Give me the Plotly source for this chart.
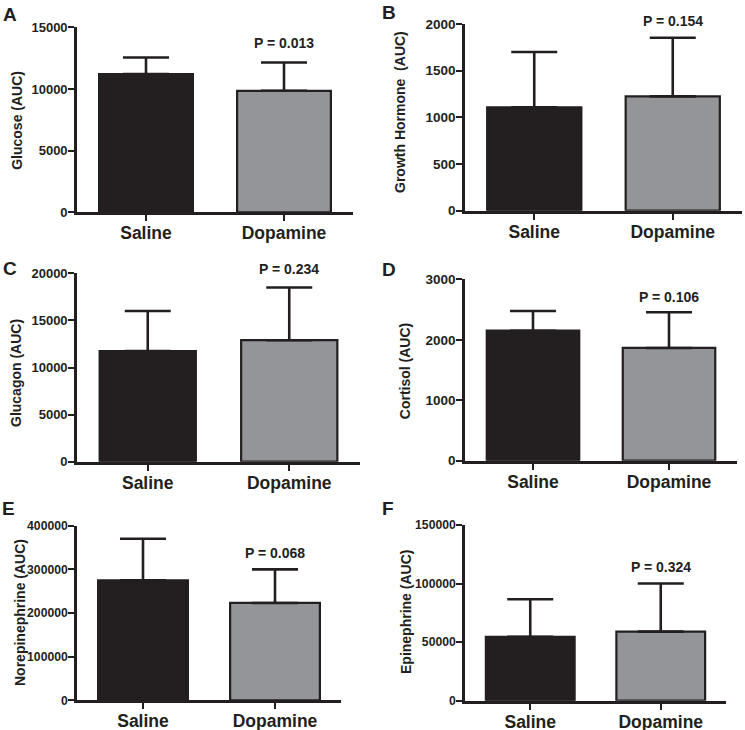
import plotly.graph_objects as go

categories = ["Saline", "Dopamine"]

panel_letters = ["A", "B", "C", "D", "E", "F"]
y_titles = ["Glucose (AUC)", "Growth Hormone\u00a0 (AUC)", "Glucagon (AUC)",
            "Cortisol (AUC)", "Norepinephrine (AUC)", "Epinephrine (AUC)"]
p_labels = ["P = 0.013", "P = 0.154", "P = 0.234", "P = 0.106", "P = 0.068", "P = 0.324"]

glucose_mean = [11200, 9850]
glucose_err = [1350, 2300]
gh_mean = [1108, 1225]
gh_err = [592, 628]
glucagon_mean = [11750, 12900]
glucagon_err = [4250, 5600]
cortisol_mean = [2150, 1865]
cortisol_err = [325, 590]
ne_mean = [275000, 223000]
ne_err = [95000, 77000]
epi_mean = [54600, 59000]
epi_err = [32000, 41000]

means = [glucose_mean, gh_mean, glucagon_mean, cortisol_mean, ne_mean, epi_mean]
errs = [glucose_err, gh_err, glucagon_err, cortisol_err, ne_err, epi_err]

y_max = [15000, 2000, 20000, 3000, 400000, 150000]
y_step = [5000, 500, 5000, 1000, 100000, 50000]

W, H = 745, 730
# pixel layout of each panel: (x_left, x_right, y_top, y_bottom)
boxes = [(77, 353, 27.3, 212.3), (465, 742, 24, 210.7),
         (77, 360, 273.3, 461.7), (465, 737, 279.3, 460.7),
         (77, 341, 525.7, 700.3), (465, 726, 525, 700.7)]
letter_pos = [(10, 14), (389, 12), (9.5, 268), (389, 269.5), (8.5, 508), (387.5, 508.5)]
title_pos = [(17, 120.8), (400, 112), (15.5, 373.5), (404.5, 371.7), (20, 613), (405.5, 612.5)]
p_frac = [0.915, 1.018, 1.022, 0.901, 0.841, 0.759]
ytick_size = [13, 13.5, 13, 13.5, 12.2, 12.2]

FONT = "Liberation Sans, Arial, sans-serif"
DARK = "#231f20"
GREY = "#939598"

def px(x):
    return x / W

def py(y):
    return 1 - y / H

fig = go.Figure()
annotations = []
for i in range(6):
    sfx = "" if i == 0 else str(i + 1)
    fig.add_trace(go.Bar(
        x=categories, y=means[i],
        xaxis="x" + sfx, yaxis="y" + sfx,
        width=0.68,
        marker=dict(color=[DARK, GREY], line=dict(color=DARK, width=2.2)),
        error_y=dict(type="data", symmetric=False, array=errs[i],
                     arrayminus=[0, 0], color=DARK, thickness=2.6, width=23),
        showlegend=False, hoverinfo="y",
    ))
    x0, x1, y0, y1 = boxes[i]
    tickvals = list(range(0, y_max[i] + 1, y_step[i]))
    fig.update_layout(**{
        "xaxis" + sfx: dict(
            domain=[px(x0), px(x1)], anchor="y" + sfx, automargin=False,
            type="category", range=[-0.5, 1.5],
            showline=True, linecolor=DARK, linewidth=2.6,
            ticks="outside", ticklen=6, tickwidth=2.4, tickcolor=DARK,
            ticklabelstandoff=-3,
            tickfont=dict(family=FONT, size=17.5, color=DARK, weight="bold"),
            showgrid=False, zeroline=False, fixedrange=True,
        ),
        "yaxis" + sfx: dict(
            domain=[py(y1), py(y0)], anchor="x" + sfx, automargin=False,
            range=[0, y_max[i]], tickvals=tickvals,
            ticktext=[str(v) for v in tickvals],
            showline=True, linecolor=DARK, linewidth=2.6,
            ticks="outside", ticklen=6, tickwidth=2.4, tickcolor=DARK,
            ticklabelstandoff=-2,
            tickfont=dict(family=FONT, size=ytick_size[i], color=DARK, weight="bold"),
            showgrid=False, zeroline=False, fixedrange=True,
        ),
    })
    lx, ly = letter_pos[i]
    annotations.append(dict(text=panel_letters[i], x=px(lx), y=py(ly), xref="paper", yref="paper",
                            showarrow=False, xanchor="center", yanchor="middle",
                            font=dict(family=FONT, size=19, color=DARK, weight="bold")))
    tx, ty = title_pos[i]
    annotations.append(dict(text=y_titles[i], x=px(tx), y=py(ty), xref="paper", yref="paper",
                            showarrow=False, xanchor="center", yanchor="middle", textangle=-90,
                            font=dict(family=FONT, size=14, color=DARK, weight="bold")))
    annotations.append(dict(text=p_labels[i], x=categories[1], y=p_frac[i],
                            xref="x" + sfx, yref="y" + sfx + " domain",
                            showarrow=False, xanchor="center", yanchor="middle",
                            font=dict(family=FONT, size=14, color=DARK, weight="bold")))

fig.update_layout(
    template="none",
    width=W, height=H,
    margin=dict(l=0, r=0, t=0, b=0, autoexpand=False),
    paper_bgcolor="white", plot_bgcolor="white",
    annotations=annotations,
    bargap=0.3,
)

fig.write_html("out.html", config={"displayModeBar": False},
               post_script="document.body.style.margin='0';document.body.style.overflow='hidden';")
